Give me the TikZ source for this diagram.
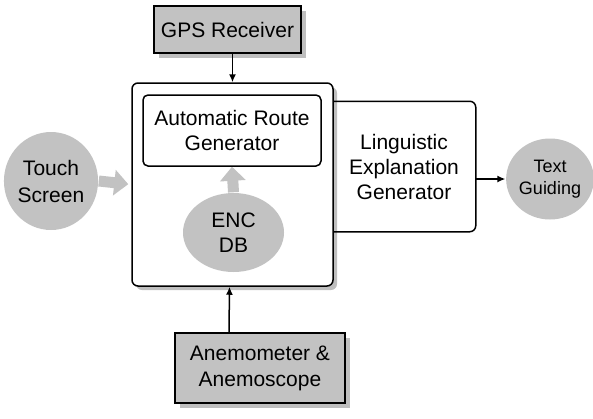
\documentclass[tikz,border=0pt]{standalone}
\usepackage{fontspec}
\setmainfont{Liberation Sans}
\usetikzlibrary{shapes.geometric,shadows,arrows.meta}
\begin{document}
\begin{tikzpicture}[x=1pt,y=-1pt,line width=1.5pt,
    txt/.style={align=center,inner sep=0pt,font=\fontsize{21}{25}\selectfont},
    box/.style={txt,draw,fill=black!24,drop shadow={shadow xshift=5pt,shadow yshift=-5pt,fill=black!50}},
    blob/.style={txt,ellipse,fill=black!24},
    panel/.style={draw,rounded corners=6pt,fill=white},
    fatarrow/.style={black!24,line width=11pt,-{Triangle[width=25pt,length=14pt]}},
    tip/.style={-{Latex[length=8pt,width=7pt]}}]
  \useasboundingbox (0,0) rectangle (593,418);

  \node[box,minimum width=147pt,minimum height=47pt] (GPS) at (227.5,29.5) {GPS Receiver};
  \node[box,minimum width=170pt,minimum height=70pt,font=\fontsize{21}{26}\selectfont] (anemo) at (260,368) {Anemometer \&\\Anemoscope};

  \node[panel,minimum width=201pt,minimum height=203pt,
        drop shadow={shadow xshift=4pt,shadow yshift=-4pt,fill=black!50}] (main) at (232.5,184.5) {};
  \node[panel,txt,rounded corners=5pt,minimum width=178pt,minimum height=71pt] (ARG) at (232,130.5) {Automatic Route\\Generator};
  \node[blob,minimum width=101pt,minimum height=79pt] (ENC) at (233.5,232.5) {ENC\\DB};

  \node[txt,minimum width=142pt,minimum height=129pt] (ling) at (404,166.5) {Linguistic\\Explanation\\Generator};
  \draw[rounded corners=6pt] (main.east |- ling.north) -- (ling.north east) -- (ling.south east) -- (main.east |- ling.south);

  \node[blob,minimum width=88pt,minimum height=98pt,font=\fontsize{21}{27}\selectfont] (touch) at (51,181) {Touch\\Screen};
  \node[blob,minimum width=81pt,minimum height=81pt,font=\fontsize{18}{22}\selectfont] (guide) at (550,179) {Text\\Guiding};

  \draw[fatarrow] (ENC.north) -- (ARG.south);
  \draw[fatarrow,shorten >=3pt] (touch.east) -- (main.west);

  \draw[tip] (main.north |- GPS.south) -- (main.north);
  \draw[tip] ([xshift=-31pt]anemo.north) -- ([xshift=-3pt]main.south);
  \draw[tip] (ling.east |- guide.west) -- (guide.west);
\end{tikzpicture}
\end{document}
